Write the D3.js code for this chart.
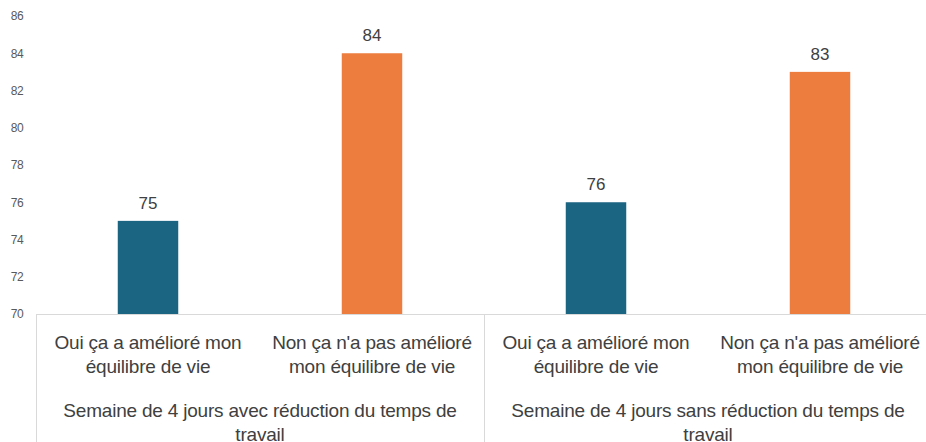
<!DOCTYPE html>
<html>
<head>
<meta charset="utf-8">
<script src="https://cdn.jsdelivr.net/npm/d3@7"></script>
<style>
  body { margin: 0; background: #fff; overflow: hidden; }
  svg text { font-family: "Liberation Sans", Arial, sans-serif; fill: #404040; }
</style>
</head>
<body>
<div id="chart"></div>
<script>
// data
const groups = ["Semaine de 4 jours avec réduction du temps de travail",
                "Semaine de 4 jours sans réduction du temps de travail"];
const answers = ["Oui ça a amélioré mon équilibre de vie",
                 "Non ça n'a pas amélioré mon équilibre de vie"];
const answerLines = [["Oui ça a amélioré mon", "équilibre de vie"],
                     ["Non ça n'a pas amélioré", "mon équilibre de vie"]];
const groupLines = [["Semaine de 4 jours avec réduction du temps de", "travail"],
                    ["Semaine de 4 jours sans réduction du temps de", "travail"]];
const values = [75, 84, 76, 83];
const yTicks = [70, 72, 74, 76, 78, 80, 82, 84, 86];
const colors = ["#1b6482", "#ed7d3e"];

const width = 926, height = 442;
// plot area runs a few px past the right edge (cropped in the original)
const margin = {top: 16, right: -6, bottom: 128, left: 36};

const svg = d3.select("#chart").append("svg")
  .attr("width", width).attr("height", height);

const cells = [];
groups.forEach((g, gi) => answers.forEach((a, ai) => {
  cells.push({group: gi, answer: ai, key: gi + "-" + ai, value: values[gi * 2 + ai]});
}));

const x = d3.scaleBand()
  .domain(cells.map(d => d.key))
  .range([margin.left, width - margin.right])
  .paddingInner(0.73)
  .paddingOuter(0.365);

const y = d3.scaleLinear()
  .domain([70, 86])
  .range([height - margin.bottom, margin.top]);

// y tick labels only
svg.append("g")
  .attr("transform", "translate(" + (margin.left - 13) + ",0)")
  .call(d3.axisLeft(y).tickValues(yTicks).tickSize(0).tickPadding(0))
  .call(g => g.select(".domain").remove())
  .selectAll("text")
  .style("font-size", "12px")
  .style("fill", "#595959")
  .style("letter-spacing", "-0.6px");

// bars
svg.selectAll("rect.bar")
  .data(cells)
  .join("rect")
  .attr("class", "bar")
  .attr("x", d => x(d.key))
  .attr("y", d => y(d.value))
  .attr("width", x.bandwidth())
  .attr("height", d => y(70) - y(d.value))
  .attr("fill", d => colors[d.answer]);

// value labels
svg.selectAll("text.val")
  .data(cells)
  .join("text")
  .attr("class", "val")
  .attr("x", d => x(d.key) + x.bandwidth() / 2)
  .attr("y", d => y(d.value) - 12)
  .attr("text-anchor", "middle")
  .style("font-size", "17px")
  .text(d => d.value);

// category axis line + separators
const base = y(70);
const step = x.step();
svg.append("line")
  .attr("x1", margin.left).attr("x2", width)
  .attr("y1", base + 0.5).attr("y2", base + 0.5)
  .attr("stroke", "#d9d9d9");
[0, 1, 2].forEach(i => {
  const xx = Math.round(margin.left + i * step * 2) + 0.5;
  svg.append("line")
    .attr("x1", xx).attr("x2", xx)
    .attr("y1", base).attr("y2", height)
    .attr("stroke", "#d9d9d9");
});

// answer labels
cells.forEach(d => {
  const cx = x(d.key) + x.bandwidth() / 2;
  answerLines[d.answer].forEach((line, li) => {
    svg.append("text")
      .attr("x", cx)
      .attr("y", base + 35 + li * 24)
      .attr("text-anchor", "middle")
      .style("font-size", "19px")
      .style("letter-spacing", "-0.2px")
      .text(line);
  });
});

// group labels
groups.forEach((g, gi) => {
  const cx = margin.left + step * (gi * 2 + 1);
  groupLines[gi].forEach((line, li) => {
    svg.append("text")
      .attr("x", cx)
      .attr("y", base + 103 + li * 24)
      .attr("text-anchor", "middle")
      .style("font-size", "19px")
      .style("letter-spacing", "-0.2px")
      .text(line);
  });
});
</script>
</body>
</html>
